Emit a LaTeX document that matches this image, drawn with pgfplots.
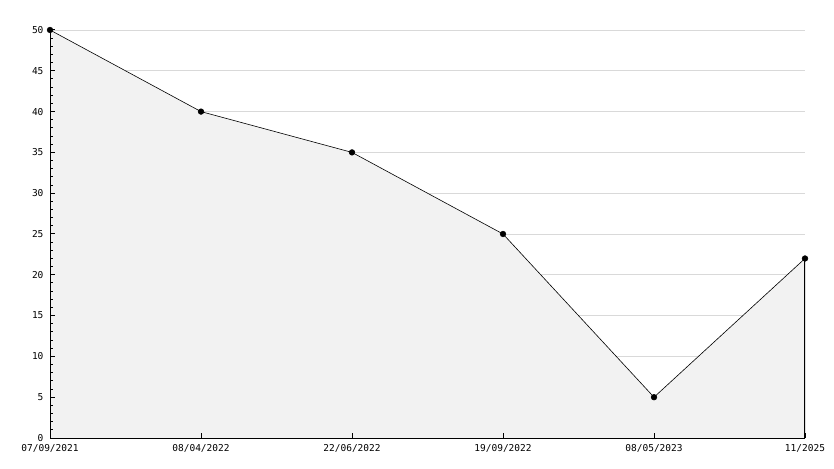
\documentclass[border=0pt]{standalone}
\usepackage{fontspec}
\setmainfont{DejaVu Sans Mono}
\setmonofont{DejaVu Sans Mono}
\usepackage{pgfplots}
\pgfplotsset{compat=1.18}
\begin{document}
\begin{tikzpicture}
\begin{axis}[
  axis on top,
  at={(0,0)}, anchor=south west,
  scale only axis, width=755pt, height=408pt,
  xmin=0, xmax=5, ymin=0, ymax=50,
  axis x line=bottom, axis y line=left,
  axis line style={-, black, line width=1pt},
  xtick={0,1,2,3,4,5},
  xticklabels={07/09/2021,08/04/2022,22/06/2022,19/09/2022,08/05/2023,11/2025},
  ytick={0,5,...,50},
  minor y tick num=4,
  tick align=inside,
  major tick length=5pt, minor tick length=3pt,
  tick style={black, line width=1pt},
  /pgf/number format/assume math mode=true,
  tick label style={font=\fontsize{9.5}{10}\selectfont\ttfamily},
  xticklabel style={yshift=-3pt},
  yticklabel style={xshift=-3pt},
]
\pgfplotsinvokeforeach{5,10,...,50}{
  \addplot[black!15, line width=0.8pt, forget plot] coordinates {(0,#1) (5,#1)};
}
\addplot[fill=black!5, draw=none] coordinates {(0,50) (1,40) (2,35) (3,25) (4,5) (5,22)} \closedcycle;
\addplot[black, line width=1.2pt] coordinates {(5,0) (5,22)};
\addplot[black, line width=0.6pt, mark=*, mark size=2.8pt, mark options={fill=black}] coordinates {(0,50) (1,40) (2,35) (3,25) (4,5) (5,22)};
\end{axis}
\path (-50pt,-30pt) rectangle (784pt,438pt);
\end{tikzpicture}
\end{document}
